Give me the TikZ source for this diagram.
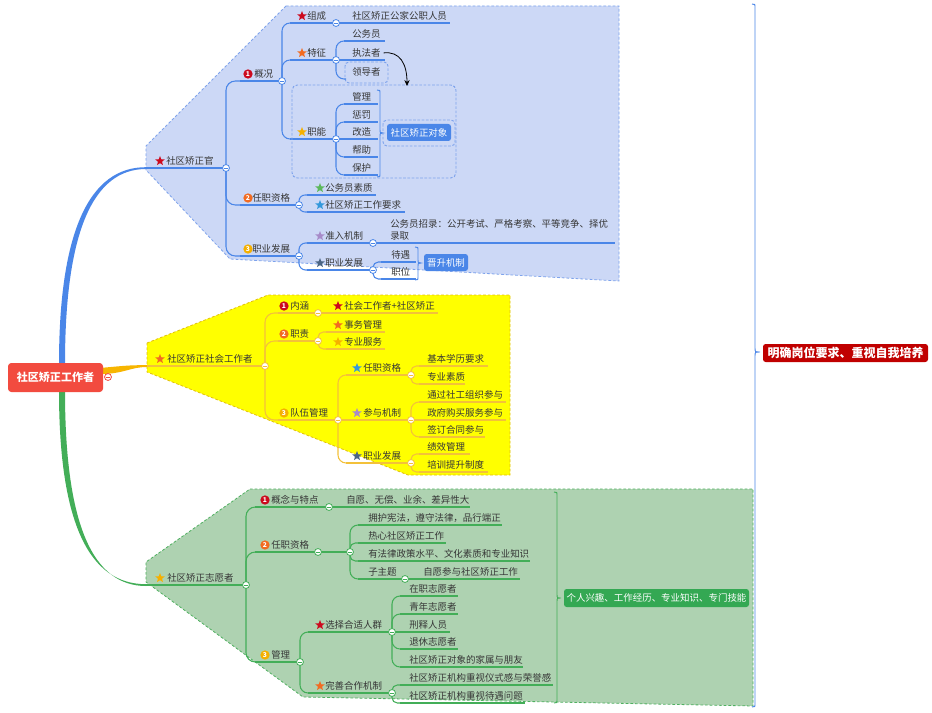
\documentclass[tikz,border=0pt]{standalone}
\usepackage{fontspec}
\setmainfont{Noto Sans CJK SC}
\usetikzlibrary{shapes.geometric,arrows.meta}
\definecolor{bl}{HTML}{4A86E8}
\definecolor{blfill}{HTML}{CCD8F6}
\definecolor{blbord}{HTML}{7EA3EC}
\definecolor{ye}{HTML}{F3C13A}
\definecolor{yefill}{HTML}{FFFF00}
\definecolor{yebord}{HTML}{E2BE10}
\definecolor{yeroot}{HTML}{F7B500}
\definecolor{gr}{HTML}{43AE58}
\definecolor{grfill}{HTML}{AED2B1}
\definecolor{grbord}{HTML}{4FB060}
\definecolor{rootred}{HTML}{F24B3F}
\definecolor{darkred}{HTML}{C00000}
\definecolor{boxblue}{HTML}{4A86E8}
\definecolor{boxgreen}{HTML}{34A853}
\definecolor{txtc}{HTML}{363636}
\definecolor{sred}{HTML}{CC0A1E}
\definecolor{sorange}{HTML}{F26B21}
\definecolor{sgold}{HTML}{F5B000}
\definecolor{sgreen}{HTML}{5CB85C}
\definecolor{sblue}{HTML}{3498DB}
\definecolor{spurple}{HTML}{A78BC9}
\definecolor{sslate}{HTML}{4B6584}
\tikzset{
  ul/.style={line width=0.8pt},
  txt/.style={anchor=base west,inner sep=0pt,font=\fontsize{7.1pt}{8.5pt}\selectfont,text=txtc},
  region/.style={line width=0.6pt,dash pattern=on 2pt off 1.5pt},
  sumbox/.style={rounded corners=2pt,text=white,inner sep=0pt,font=\fontsize{7.1pt}{8.5pt}\selectfont},
  staricon/.style={star,star points=5,star point ratio=2.3,inner sep=0pt,minimum size=7.5pt},
  numicon/.style={circle,inner sep=0pt,minimum size=7pt,text=white,font=\fontsize{5pt}{5pt}\selectfont\bfseries}
}
\newcounter{ic}
\newcommand\tp[7]{%
  \coordinate (#1-l) at (#2,#4);
  \coordinate (#1-r) at (#3,#4);
  \draw[ul,#6] (#1-l) -- (#1-r);
  \node[txt] (#1) at (#5,#4-3.5) {#7};}
\newcommand\cn[4][6pt]{\draw[ul,#2,rounded corners=#1] (#3) |- (#4-l);}
\newcommand\st[3]{\stepcounter{ic}\node[staricon,fill=#3] (ic\arabic{ic}) at (#1,#2) {};}
\newcommand\nm[4]{\stepcounter{ic}\node[numicon,fill=#3] (ic\arabic{ic}) at (#1,#2) {#4};}
\newcommand\brc[6]{\draw[#1,line width=0.7pt] (#2-3,#3) .. controls (#2,#3) .. (#2,#3+4) -- (#2,#5-4) .. controls (#2,#5) .. (#6,#5) .. controls (#2,#5) .. (#2,#5+4) -- (#2,#4-4) .. controls (#2,#4) .. (#2-3,#4);}
\begin{document}
\begin{tikzpicture}[x=0.75pt,y=-0.75pt]
\useasboundingbox (0,0) rectangle (932,713);
\fill[white] (0,0) rectangle (932,713);
% regions
\filldraw[region,fill=blfill,draw=blbord] (286,6) -- (619,6) -- (619,281) -- (230,259) -- (146,170) -- (146,146) -- cycle;
\filldraw[region,fill=yefill,draw=yebord] (147,343) -- (268,295) -- (510,295) -- (510,475) -- (408,475) -- (147,372) -- cycle;
\filldraw[region,fill=grfill,draw=grbord] (250,489) -- (753,489) -- (753,706) -- (303,697) -- (146,582) -- (146,562) -- cycle;
% root thick connectors
\fill[bl] (59,364) .. controls (59,230) and (90,167) .. (146,167.2) -- (146,169) .. controls (93,169) and (65,232) .. (65,364) -- cycle;
\fill[gr] (59,391) .. controls (59,525) and (90,584.2) .. (146,584.2) -- (146,586) .. controls (93,586) and (65,525) .. (65,391) -- cycle;
\fill[yeroot] (100,368) .. controls (122,366) and (130,365) .. (147,365.2) -- (147,367) .. controls (130,367) and (124,374) .. (100,374) -- cycle;
% circle coordinates
\coordinate (k-sjg) at (226,168);
\coordinate (k-gk) at (282,81);
\coordinate (k-zc) at (336,23);
\coordinate (k-tz) at (336,60);
\coordinate (k-zn) at (336,139);
\coordinate (k-rz) at (299,205);
\coordinate (k-zf) at (299,256);
\coordinate (k-zrjz) at (373,243);
\coordinate (k-zyfz) at (373,270);
\coordinate (k-sgz) at (265,366);
\coordinate (k-nh) at (318,313);
\coordinate (k-zz) at (318,341);
\coordinate (k-dw) at (338,420);
\coordinate (k-rzzg2) at (411,375);
\coordinate (k-cyjz) at (411,420);
\coordinate (k-zyfz2) at (411,463);
\coordinate (k-zyz) at (246,585);
\coordinate (k-gnt) at (329,507);
\coordinate (k-rz3) at (318,552);
\coordinate (k-rz3b) at (350,552);
\coordinate (k-zzt) at (405,579);
\coordinate (k-gl3) at (300,662);
\coordinate (k-xz) at (392,632);
\coordinate (k-ws) at (392,693);
\coordinate (k-root) at (108,377);
% ===== blue branch =====
\tp{sjg}{146}{226}{168}{166}{bl}{社区矫正官}\st{160}{161}{sred}
\tp{gk}{240}{282}{81}{254}{bl}{概况}\nm{248}{74}{sred}{1}
\tp{zc}{290}{336}{23}{307}{bl}{组成}\st{302}{16}{sred}
\tp{gj}{336}{450}{23}{352}{bl}{社区矫正公家公职人员}
\tp{tz}{290}{336}{60}{307}{bl}{特征}\st{302}{53}{sorange}
\tp{gwy}{344}{385}{41}{352}{bl}{公务员}
\tp{zfz}{336}{385}{60}{352}{bl}{执法者}
\coordinate (ldz-l) at (346,79);
\draw[blbord,line width=0.7pt,dash pattern=on 2pt off 1.2pt,rounded corners=3pt] (345,62) rectangle (388,83);
\node[txt] (ldz) at (352,75.5) {领导者};
\tp{zn}{290}{336}{139}{307}{bl}{职能}\st{302}{132}{sgold}
\tp{gl}{344}{378}{104}{352}{bl}{管理}
\tp{cf}{344}{378}{122}{352}{bl}{惩罚}
\tp{gz}{336}{378}{139}{352}{bl}{改造}
\tp{bz}{344}{378}{157}{352}{bl}{帮助}
\tp{bh}{344}{378}{175}{352}{bl}{保护}
\draw[blbord,line width=0.7pt,dash pattern=on 2pt off 1.2pt,rounded corners=4pt] (292,85) rectangle (456,178);
\brc{bl}{380}{90}{177}{133}{383}
\draw[blbord,line width=0.7pt,dash pattern=on 2pt off 1.2pt,rounded corners=3pt] (383,120) rectangle (455,146);
\node[sumbox,fill=boxblue,minimum width=48pt,minimum height=12.75pt] (sqdx) at (419,132.5) {社区矫正对象};
\tp{rz}{240}{299}{205}{252}{bl}{任职资格}\nm{248}{198}{sorange}{2}
\tp{gwysz}{307}{376}{195}{325}{bl}{公务员素质}\st{320}{188}{sgreen}
\tp{sqyq}{307}{405}{212}{325}{bl}{社区矫正工作要求}\st{320}{205}{sblue}
\tp{zf}{240}{299}{256}{252}{bl}{职业发展}\nm{248}{249}{sgold}{3}
\tp{zrjz}{307}{373}{243}{325}{bl}{准入机制}\st{320}{236}{spurple}
\coordinate (gwzl-r) at (615,243);
\draw[ul,bl] (k-zrjz) -- (gwzl-r);
\node[txt,anchor=north west,align=left,font=\fontsize{7.1pt}{9pt}\selectfont] (gwzl) at (390,219.5) {公务员招录：公开考试、严格考察、平等竞争、择优\\录取};
\tp{zyfz}{307}{373}{270}{325}{bl}{职业发展}\st{320}{263}{sslate}
\tp{dy}{381}{416}{262}{391}{bl}{待遇}
\tp{zw}{381}{416}{279}{391}{bl}{职位}
\brc{bl}{418}{247}{280}{263}{421}
\node[sumbox,fill=boxblue,minimum width=33pt,minimum height=12.75pt] (jsjz) at (446,262.5) {晋升机制};
\cn[7pt]{bl}{k-sjg}{gk}
\cn[7pt]{bl}{k-sjg}{rz}
\cn[7pt]{bl}{k-sjg}{zf}
\cn{bl}{k-gk}{zc}
\cn{bl}{k-gk}{tz}
\cn{bl}{k-gk}{zn}
\cn{bl}{k-tz}{gwy}
\cn{bl}{k-tz}{ldz}
\cn{bl}{k-zn}{gl}
\cn{bl}{k-zn}{cf}
\cn{bl}{k-zn}{bz}
\cn{bl}{k-zn}{bh}
\cn[4.5pt]{bl}{k-rz}{gwysz}
\cn[4.5pt]{bl}{k-rz}{sqyq}
\cn[5pt]{bl}{k-zf}{zrjz}
\cn[5pt]{bl}{k-zf}{zyfz}
\cn[4pt]{bl}{k-zyfz}{dy}
\cn[4pt]{bl}{k-zyfz}{zw}
\coordinate (arrE) at (407,86);
\draw[-{Stealth[length=4.5pt,width=4pt]},black,line width=0.6pt] ([xshift=2pt]zfz.east) .. controls (400,51) and (407,64) .. (arrE);
% ===== yellow branch =====
\tp{sgz}{147}{265}{366}{167}{ye}{社区矫正社会工作者}\st{160}{359}{sorange}
\tp{nh}{278}{318}{313}{290}{ye}{内涵}\nm{284}{306}{sred}{1}
\tp{shgz}{318}{438}{313}{344}{ye}{社会工作者+社区矫正}\st{338}{306}{sred}
\tp{zz}{278}{318}{341}{290}{ye}{职责}\nm{284}{334}{sorange}{2}
\tp{swgl}{326}{385}{332}{344}{ye}{事务管理}\st{338}{325}{sorange}
\tp{zyfw}{326}{385}{349}{344}{ye}{专业服务}\st{338}{342}{sgold}
\tp{dwgl}{278}{338}{420}{290}{ye}{队伍管理}\nm{284}{413}{sgold}{3}
\tp{rzzg2}{346}{411}{375}{363}{ye}{任职资格}\st{357}{368}{sblue}
\tp{jbxl}{419}{488}{366}{427}{ye}{基本学历要求}
\tp{zysz}{419}{465}{384}{427}{ye}{专业素质}
\tp{cyjz}{338}{411}{420}{363}{ye}{参与机制}\st{357}{413}{spurple}
\tp{tgsg}{419}{506}{402}{427}{ye}{通过社工组织参与}
\tp{zfgm}{411}{506}{420}{427}{ye}{政府购买服务参与}
\tp{qdht}{419}{485}{437}{427}{ye}{签订合同参与}
\tp{zyfz2}{346}{411}{463}{363}{ye}{职业发展}\st{357}{456}{sslate}
\tp{jxgl}{419}{470}{454}{427}{ye}{绩效管理}
\tp{pxts}{419}{488}{472}{427}{ye}{培训提升制度}
\cn[7pt]{ye}{k-sgz}{nh}
\cn[7pt]{ye}{k-sgz}{zz}
\cn[7pt]{ye}{k-sgz}{dwgl}
\cn[4pt]{ye}{k-zz}{swgl}
\cn[4pt]{ye}{k-zz}{zyfw}
\cn{ye}{k-dw}{rzzg2}
\cn{ye}{k-dw}{zyfz2}
\cn[4pt]{ye}{k-rzzg2}{jbxl}
\cn[4pt]{ye}{k-rzzg2}{zysz}
\cn{ye}{k-cyjz}{tgsg}
\cn{ye}{k-cyjz}{qdht}
\cn[4pt]{ye}{k-zyfz2}{jxgl}
\cn[4pt]{ye}{k-zyfz2}{pxts}
% ===== green branch =====
\tp{zyz}{146}{246}{585}{167}{gr}{社区矫正志愿者}\st{160}{578}{sgold}
\tp{gnt}{255}{329}{507}{271}{gr}{概念与特点}\nm{265}{500}{sred}{1}
\tp{zy}{329}{470}{507}{346}{gr}{自愿、无偿、业余、差异性大}
\tp{rzzg3}{255}{318}{552}{271}{gr}{任职资格}\nm{265}{545}{sorange}{2}
\draw[ul,gr] (k-rz3) -- (k-rz3b);
\tp{yh}{358}{502}{525}{368}{gr}{拥护宪法，遵守法律，品行端正}
\tp{rx}{358}{446}{543}{368}{gr}{热心社区矫正工作}
\tp{yfl}{358}{530}{561}{368}{gr}{有法律政策水平、文化素质和专业知识}
\tp{zzt}{358}{405}{579}{368}{gr}{子主题}
\tp{zycy}{405}{520}{579}{423}{gr}{自愿参与社区矫正工作}
\tp{gl3}{255}{300}{662}{271}{gr}{管理}\nm{265}{655}{sgold}{3}
\tp{xzrq}{308}{392}{632}{325}{gr}{选择合适人群}\st{320}{625}{sred}
\tp{zzzy}{400}{458}{596}{409}{gr}{在职志愿者}
\tp{qnzy}{400}{458}{614}{409}{gr}{青年志愿者}
\tp{xsry}{392}{450}{632}{409}{gr}{刑释人员}
\tp{txzy}{400}{458}{649}{409}{gr}{退休志愿者}
\tp{jsqy}{400}{523}{667}{409}{gr}{社区矫正对象的家属与朋友}
\tp{wshz}{308}{392}{693}{325}{gr}{完善合作机制}\st{320}{686}{sorange}
\tp{ysg}{400}{553}{685}{409}{gr}{社区矫正机构重视仪式感与荣誉感}
\tp{dywt}{400}{525}{703}{409}{gr}{社区矫正机构重视待遇问题}
\cn[7pt]{gr}{k-zyz}{gnt}
\cn[7pt]{gr}{k-zyz}{rzzg3}
\cn[7pt]{gr}{k-zyz}{gl3}
\cn{gr}{k-rz3b}{yh}
\cn[4pt]{gr}{k-rz3b}{rx}
\cn[4pt]{gr}{k-rz3b}{yfl}
\cn{gr}{k-rz3b}{zzt}
\cn{gr}{k-gl3}{xzrq}
\cn{gr}{k-gl3}{wshz}
\cn{gr}{k-xz}{zzzy}
\cn{gr}{k-xz}{qnzy}
\cn{gr}{k-xz}{txzy}
\cn{gr}{k-xz}{jsqy}
\cn[4pt]{gr}{k-ws}{ysg}
\cn[4pt]{gr}{k-ws}{dywt}
\brc{gr}{557}{492}{703}{598}{561}
\node[sumbox,fill=boxgreen,minimum width=138.75pt,minimum height=13.5pt] (grbox) at (656.5,598) {个人兴趣、工作经历、专业知识、专门技能};
% ===== root & goal =====
\node[fill=rootred,text=white,font=\bfseries\fontsize{8.3pt}{9pt}\selectfont,rounded corners=2.5pt,minimum width=71.25pt,minimum height=21.75pt,inner sep=0pt] (root) at (55.5,377.5) {社区矫正工作者};
\brc{bl}{755}{4}{707}{352}{760}
\node[fill=darkred,text=white,font=\bfseries\fontsize{9pt}{10pt}\selectfont,rounded corners=2pt,minimum width=123.75pt,minimum height=13.5pt,inner sep=0pt] (goal) at (845.5,353) {明确岗位要求、重视自我培养};
% collapse circles
\foreach \p/\c in {k-sjg/bl,k-gk/bl,k-zc/bl,k-tz/bl,k-zn/bl,k-rz/bl,k-zf/bl,k-zrjz/bl,k-zyfz/bl,
  k-sgz/ye,k-nh/ye,k-zz/ye,k-dw/ye,k-rzzg2/ye,k-cyjz/ye,k-zyfz2/ye,
  k-zyz/gr,k-gnt/gr,k-rz3/gr,k-rz3b/gr,k-zzt/gr,k-gl3/gr,k-xz/gr,k-ws/gr,k-root/rootred}{
  \draw[\c,fill=white,line width=0.6pt] (\p) circle[radius=2.6pt];
  \draw[\c,line width=0.6pt] ([xshift=-1.3pt]\p) -- ([xshift=1.3pt]\p);
}
\end{tikzpicture}
\end{document}
